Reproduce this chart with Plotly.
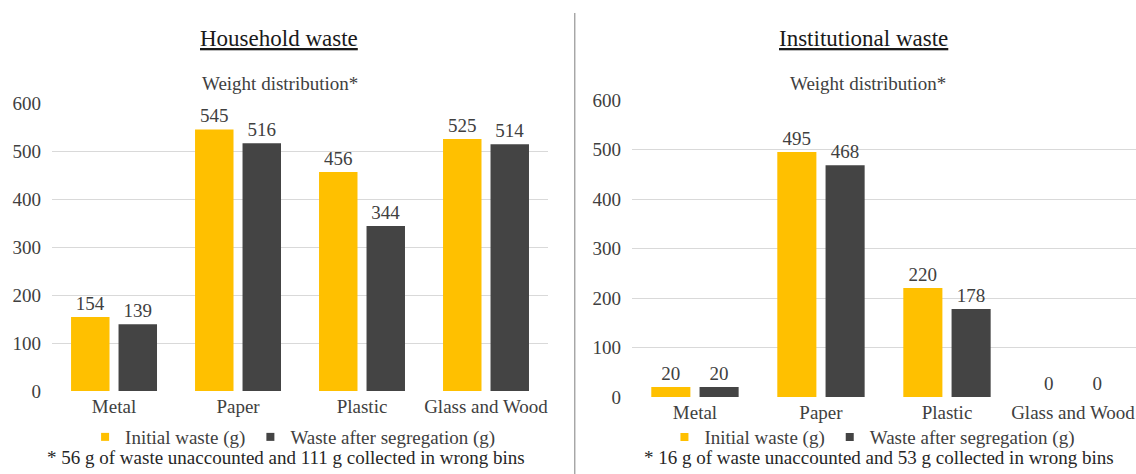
import plotly.graph_objects as go

categories = ["Metal", "Paper", "Plastic", "Glass and Wood"]
household_initial = [154, 545, 456, 525]
household_after = [139, 516, 344, 514]
institutional_initial = [20, 495, 220, 0]
institutional_after = [20, 468, 178, 0]
y_ticks = [0, 100, 200, 300, 400, 500, 600]
series_names = ["Initial waste (g)", "Waste after segregation (g)"]
panel_titles = ["Household waste", "Institutional waste"]
subtitle = "Weight distribution*"
footnotes = ["* 56 g of waste unaccounted and 111 g collected in wrong bins",
             "* 16 g of waste unaccounted and 53 g collected in wrong bins"]

YELLOW = "#FFC000"
DARK = "#444444"
FONT = "Liberation Serif, Times New Roman, serif"
TXT = "#404040"
FS = 19

fig = go.Figure()

panels = [
    (household_initial, household_after, "x", "y", "legend"),
    (institutional_initial, institutional_after, "x2", "y2", "legend2"),
]
for ini, aft, xa, ya, lg in panels:
    for vals, col, name in [(ini, YELLOW, series_names[0]), (aft, DARK, series_names[1])]:
        fig.add_trace(go.Bar(
            x=categories, y=vals, name=name, marker_color=col,
            text=vals, textposition="outside", cliponaxis=False,
            textfont=dict(family=FONT, size=FS, color=TXT),
            xaxis=xa, yaxis=ya, showlegend=False, hoverinfo="skip",
        ))
    for col, name in [(YELLOW, series_names[0]), (DARK, series_names[1])]:
        fig.add_trace(go.Scatter(
            x=[None], y=[None], mode="markers", name=name,
            marker=dict(symbol="square", size=8, color=col),
            xaxis=xa, yaxis=ya, legend=lg, showlegend=True,
        ))

axis_common_y = dict(range=[0, 600], tickvals=y_ticks, showgrid=True, gridcolor="#d9d9d9",
                     gridwidth=1, zeroline=False, showline=False, ticks="",
                     tickfont=dict(family=FONT, size=FS, color=TXT), ticklabelstandoff=10,
                     fixedrange=True, automargin=False)
axis_common_x = dict(showgrid=False, zeroline=False, showline=False, ticks="",
                     tickfont=dict(family=FONT, size=FS, color=TXT), ticklabelstandoff=2,
                     fixedrange=True, automargin=False)

fig.update_layout(
    template="none",
    width=1136, height=474, autosize=False,
    margin=dict(l=0, r=0, t=0, b=0, pad=0, autoexpand=False),
    paper_bgcolor="white", plot_bgcolor="white",
    barmode="group", bargap=0.234, bargroupgap=0.19,
    font=dict(family=FONT, size=FS, color=TXT),
    xaxis=dict(domain=[0.0458, 0.4824], anchor="y", **axis_common_x),
    yaxis=dict(domain=[0.1751, 0.7827], anchor="x", **axis_common_y),
    xaxis2=dict(domain=[0.5563, 1.0], anchor="y2", **axis_common_x),
    yaxis2=dict(domain=[0.1624, 0.789], anchor="x2", **axis_common_y),
    legend=dict(orientation="h", x=0.258, xanchor="center", y=0.078, yanchor="middle",
                font=dict(family=FONT, size=FS, color=TXT), bgcolor="rgba(0,0,0,0)"),
    legend2=dict(orientation="h", x=0.768, xanchor="center", y=0.078, yanchor="middle",
                 font=dict(family=FONT, size=FS, color=TXT), bgcolor="rgba(0,0,0,0)"),
    showlegend=True,
)

title_x = [0.2456, 0.7597]
sub_x = [0.2465, 0.7641]
foot_x = [0.2518, 0.7738]
for i in range(2):
    fig.add_annotation(text="<u>" + panel_titles[i] + "</u>", xref="paper", yref="paper",
                       x=title_x[i], y=0.918, xanchor="center", yanchor="middle",
                       showarrow=False, font=dict(family=FONT, size=23, color="#1a1a1a"))
    fig.add_annotation(text=subtitle, xref="paper", yref="paper",
                       x=sub_x[i], y=0.823, xanchor="center", yanchor="middle",
                       showarrow=False, font=dict(family=FONT, size=FS, color=TXT))
    fig.add_annotation(text=footnotes[i], xref="paper", yref="paper",
                       x=foot_x[i], y=0.034, xanchor="center", yanchor="middle",
                       showarrow=False, font=dict(family=FONT, size=FS, color="#262626"))

fig.add_shape(type="line", xref="paper", yref="paper", x0=0.506, x1=0.506, y0=0, y1=0.9726,
              line=dict(color="#7f7f7f", width=1))

fig.write_html("out.html", config={"displayModeBar": False, "staticPlot": False},
               post_script="document.body.style.margin='0px';document.body.style.overflow='hidden';")
